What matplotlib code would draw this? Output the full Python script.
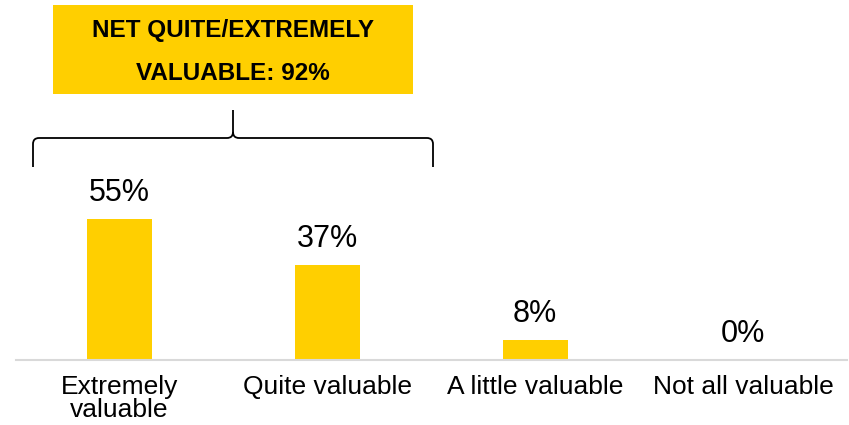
import matplotlib
matplotlib.use("Agg")
import matplotlib.pyplot as plt
from matplotlib.path import Path
from matplotlib.patches import PathPatch, Rectangle
from matplotlib.transforms import Affine2D

plt.rcParams['font.family'] = ['Liberation Sans', 'DejaVu Sans']

categories = ["Extremely\nvaluable", "Quite valuable", "A little valuable", "Not all valuable"]
values = [55, 37, 8, 0]
value_labels = ["55%", "37%", "8%", "0%"]
net_lines = ["NET QUITE/EXTREMELY", "VALUABLE: 92%"]

yellow = "#FFCF00"
W, H = 849, 425

fig = plt.figure(figsize=(W / 100, H / 100), dpi=100)
ax = fig.add_axes([15.5 / W, (H - 360) / H, 831.5 / W, 360 / H])

x = range(len(values))
ax.bar(x, values, width=0.3125, color=yellow)
for i, v in enumerate(values):
    ax.text(i, v + 7, value_labels[i], ha='center', va='baseline', fontsize=22)

ax.set_xlim(-0.5, len(values) - 0.5)
ax.set_ylim(0, 360 / 2.56)
ax.set_xticks(list(x))
ax.set_xticklabels(categories, fontsize=19, linespacing=0.92)
ax.tick_params(axis='x', length=0, pad=11)
ax.set_yticks([])
for s in ['top', 'left', 'right']:
    ax.spines[s].set_visible(False)
ax.spines['bottom'].set_color('#d9d9d9')
ax.spines['bottom'].set_linewidth(1.5)

# pixel coordinates, origin top-left
px = Affine2D().scale(1 / W, -1 / H).translate(0, 1) + fig.transFigure

fig.patches.append(Rectangle((53, 5), 360, 89, transform=px, facecolor=yellow,
                             edgecolor='none'))
fig.text(233 / W, 1 - 31 / H, net_lines[0], ha='center', va='center',
         fontsize=17.5, fontweight='bold')
fig.text(233 / W, 1 - 73 / H, net_lines[1], ha='center', va='center',
         fontsize=17.5, fontweight='bold')

# curly brace
l, r, tip, yb, yh, yt = 33, 433, 233, 167, 138, 110
verts = [(l, yb), (l, yh + 6), (l, yh), (l + 6, yh),
         (tip - 6, yh), (tip, yh), (tip, yh - 6), (tip, yt),
         (tip, yh - 6), (tip, yh), (tip + 6, yh),
         (r - 6, yh), (r, yh), (r, yh + 6), (r, yb)]
codes = [Path.MOVETO, Path.LINETO, Path.CURVE3, Path.CURVE3,
         Path.LINETO, Path.CURVE3, Path.CURVE3, Path.LINETO,
         Path.MOVETO, Path.CURVE3, Path.CURVE3,
         Path.LINETO, Path.CURVE3, Path.CURVE3, Path.LINETO]
fig.patches.append(PathPatch(Path(verts, codes), transform=px, facecolor='none',
                             edgecolor='black', linewidth=1.3))

fig.savefig("out.png", dpi=100)
